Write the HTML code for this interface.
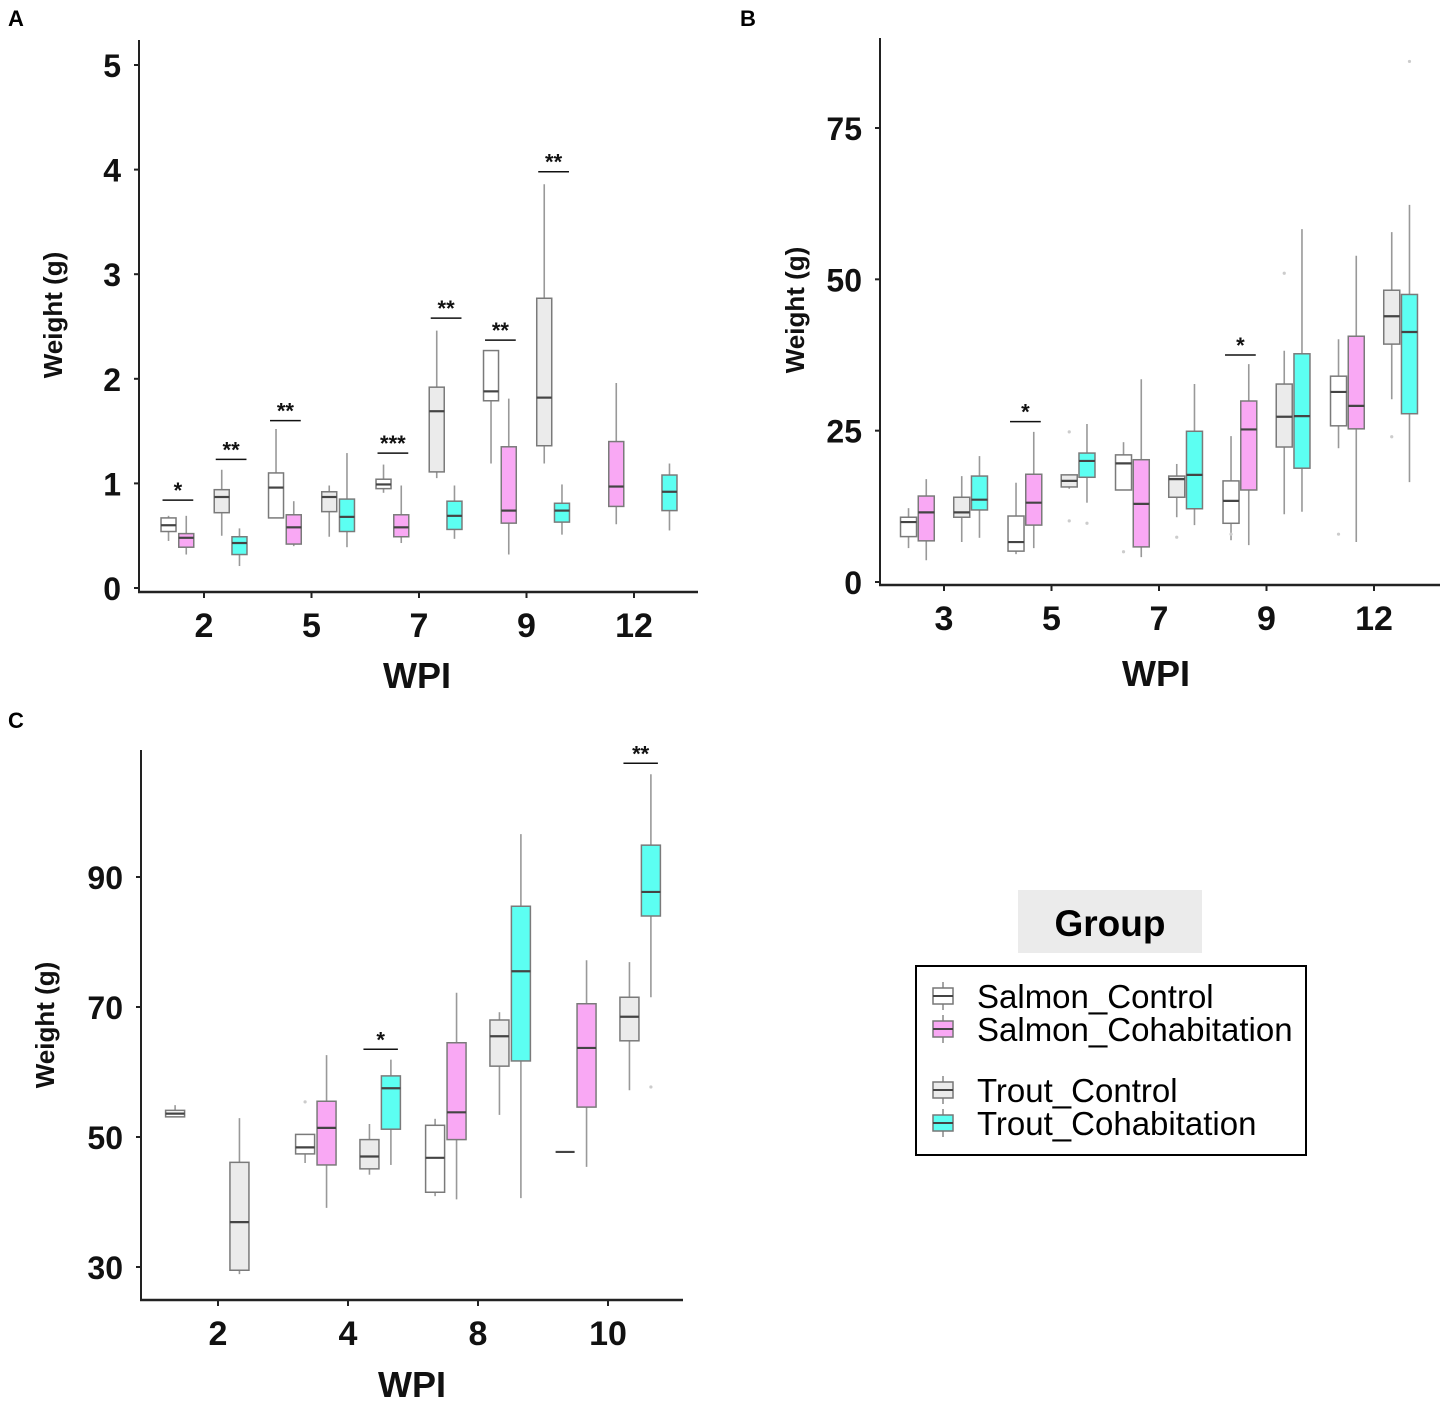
<!DOCTYPE html>
<html><head><meta charset="utf-8"><style>
html,body{margin:0;padding:0;background:#fff;}
svg{display:block;font-family:"Liberation Sans",sans-serif;}
</style></head><body>
<svg id="fig" width="1443" height="1407" viewBox="0 0 1443 1407" xmlns="http://www.w3.org/2000/svg">
<text x="8" y="26" font-size="22" font-weight="bold">A</text>
<text x="740" y="26" font-size="22" font-weight="bold">B</text>
<text x="8" y="728" font-size="22" font-weight="bold">C</text>
<g>
<rect x="1018" y="890" width="184" height="63" fill="#ebebeb"/>
<text x="1110" y="936" font-size="37" font-weight="bold" text-anchor="middle">Group</text>
<rect x="916" y="966" width="390" height="189" fill="#fff" stroke="#000" stroke-width="2"/>
<g><line x1="943" y1="982" x2="943" y2="1010" stroke="#888" stroke-width="1.5"/><rect x="933" y="988" width="20" height="16" fill="#fff" stroke="#777" stroke-width="1.5"/><line x1="933" y1="996" x2="953" y2="996" stroke="#444" stroke-width="2"/><text x="977" y="1008" font-size="33">Salmon_Control</text></g>
<g><line x1="943" y1="1015" x2="943" y2="1043" stroke="#888" stroke-width="1.5"/><rect x="933" y="1021" width="20" height="16" fill="#f9a8f4" stroke="#777" stroke-width="1.5"/><line x1="933" y1="1029" x2="953" y2="1029" stroke="#444" stroke-width="2"/><text x="977" y="1041" font-size="33">Salmon_Cohabitation</text></g>
<g><line x1="943" y1="1076" x2="943" y2="1104" stroke="#888" stroke-width="1.5"/><rect x="933" y="1082" width="20" height="16" fill="#ebebeb" stroke="#777" stroke-width="1.5"/><line x1="933" y1="1090" x2="953" y2="1090" stroke="#444" stroke-width="2"/><text x="977" y="1102" font-size="33">Trout_Control</text></g>
<g><line x1="943" y1="1109" x2="943" y2="1137" stroke="#888" stroke-width="1.5"/><rect x="933" y="1115" width="20" height="16" fill="#5cfff2" stroke="#777" stroke-width="1.5"/><line x1="933" y1="1123" x2="953" y2="1123" stroke="#444" stroke-width="2"/><text x="977" y="1135" font-size="33">Trout_Cohabitation</text></g>
</g>
</svg>
<script>
// ---------- Panel A data ----------
const aCategories = ['2','5','7','9','12'];
const aYTicks = [0,1,2,3,4,5];
const aGroup = [0,0,0,0,1,1,1,1,2,2,2,2,3,3,3,3,4,4];
const aSlot  = [0,1,2,3,0,1,2,3,0,1,2,3,0,1,2,3,1,3];
const aMin = [0.45,0.32,0.50,0.21,0.67,0.40,0.49,0.39,0.91,0.43,1.05,0.47,1.19,0.32,1.19,0.51,0.61,0.55];
const aQ1  = [0.54,0.39,0.72,0.32,0.67,0.42,0.73,0.54,0.95,0.49,1.11,0.56,1.79,0.62,1.36,0.63,0.78,0.74];
const aMed = [0.60,0.48,0.87,0.43,0.96,0.58,0.87,0.68,0.99,0.58,1.69,0.69,1.88,0.74,1.82,0.74,0.97,0.92];
const aQ3  = [0.67,0.52,0.94,0.49,1.10,0.70,0.92,0.85,1.04,0.70,1.92,0.83,2.27,1.35,2.77,0.81,1.40,1.08];
const aMax = [0.69,0.69,1.13,0.57,1.52,0.83,0.98,1.29,1.18,0.98,2.46,0.98,2.27,1.81,3.86,0.99,1.96,1.19];
const aSigGroup = [0,1,2,4,5,6,7];
const aSigLabel = ['*','**','**','***','**','**','**'];
const aSigY = [0.84,1.23,1.60,1.29,2.58,2.37,3.98];

// ---------- Panel B data ----------
const bCategories = ['3','5','7','9','12'];
const bYTicks = [0,25,50,75];
const bGroup = [0,0,0,0,1,1,1,1,2,2,2,2,3,3,3,3,4,4,4,4];
const bSlot  = [0,1,2,3,0,1,2,3,0,1,2,3,0,1,2,3,0,1,2,3];
const bMin = [5.6,3.6,6.6,7.3,4.6,5.6,15.4,13.1,15.2,4.1,10.7,9.4,6.9,6.1,11.2,11.6,22.1,6.6,30.2,16.5];
const bQ1  = [7.5,6.8,10.7,11.9,5.1,9.4,15.7,17.3,15.2,5.8,14.0,12.1,9.7,15.2,22.3,18.8,25.8,25.3,39.3,27.8];
const bMed = [9.9,11.5,11.5,13.6,6.6,13.1,16.7,20.0,19.6,12.9,17.0,17.7,13.4,25.2,27.3,27.4,31.4,29.1,43.9,41.3];
const bQ3  = [10.7,14.2,14.0,17.5,10.9,17.8,17.7,21.3,21.0,20.2,17.5,24.9,16.7,29.9,32.7,37.7,34.0,40.6,48.2,47.5];
const bMax = [12.2,17.0,17.5,20.8,16.4,24.8,17.7,26.1,23.1,33.5,19.5,32.7,24.1,36.0,38.2,58.3,40.1,53.9,57.8,62.3];
const bOutGroup = [1,1,1,2,2,3,3,4,4,4];
const bOutSlot  = [2,2,3,0,2,2,0,0,2,3];
const bOutVal   = [24.8,10.1,9.7,5.0,7.4,51.0,7.9,7.9,24.0,86];
const bSigGroup = [2,6];
const bSigLabel = ['*','*'];
const bSigY = [26.5,37.5];

// ---------- Panel C data ----------
const cCategories = ['2','4','8','10'];
const cYTicks = [30,50,70,90];
const cGroup = [0,0,1,1,1,1,2,2,2,2,3,3,3,3];
const cSlot  = [0,2,0,1,2,3,0,1,2,3,0,1,2,3];
const cMin = [53.1,28.9,46.0,39.1,44.2,45.7,40.9,40.4,53.4,40.6,47.7,45.4,57.2,71.5];
const cQ1  = [53.1,29.5,47.4,45.7,45.1,51.2,41.5,49.6,60.9,61.7,47.7,54.6,64.8,84.0];
const cMed = [53.6,36.9,48.4,51.4,47.0,57.5,46.8,53.8,65.5,75.5,47.7,63.7,68.5,87.7];
const cQ3  = [54.1,46.1,50.4,55.5,49.6,59.4,51.8,64.5,68.0,85.5,47.7,70.5,71.5,94.9];
const cMax = [54.9,52.9,50.4,62.6,52.0,61.9,52.8,72.2,69.2,96.6,47.7,77.2,76.9,105.8];
const cOutGroup = [1,3];
const cOutSlot  = [0,3];
const cOutVal   = [55.4,57.7];
const cSigGroup = [3,7];
const cSigLabel = ['*','**'];
const cSigY = [63.5,107.5];

const fills = ['#ffffff','#f9a8f4','#ebebeb','#5cfff2'];
const NS = 'http://www.w3.org/2000/svg';
const svg = document.getElementById('fig');
function mk(tag, attrs, parent){
  const e = document.createElementNS(NS, tag);
  for (const k in attrs) e.setAttribute(k, attrs[k]);
  parent.appendChild(e);
  return e;
}

function panel(p){
  const g = mk('g', {}, svg);
  
  
  const y = v => p.y0 + (v - p.v0) * (p.y1 - p.y0) / (p.v1 - p.v0);
  const x = i => p.xc0 + i * p.band;
  const off = [-0.33,-0.165,0.165,0.33];
  const sx = (gi, s) => x(gi) + off[s] * p.band;
  const ya = mk('line', {x1:p.axL, y1:p.axT, x2:p.axL, y2:p.axB, stroke:'#222', 'stroke-width':2}, g);
  
  
  const xa = mk('line', {x1:p.axL-1, y1:p.axB, x2:p.axR, y2:p.axB, stroke:'#222', 'stroke-width':2.5}, g);
  
  
  p.yTicks.forEach(t => {
    mk('line', {x1:p.axL-5, y1:y(t), x2:p.axL, y2:y(t), stroke:'#222', 'stroke-width':2}, g);
    const tl = mk('text', {x:p.axL-18, y:y(t)+12, 'font-size':32, 'font-weight':'bold', 'text-anchor':'end', fill:'#111'}, g);
    tl.textContent = t;
    
    
  });
  p.cats.forEach((c, i) => {
    mk('line', {x1:x(i), y1:p.axB, x2:x(i), y2:p.axB+6, stroke:'#222', 'stroke-width':2}, g);
    const tl = mk('text', {x:x(i), y:p.axB+45, 'font-size':34, 'font-weight':'bold', 'text-anchor':'middle', fill:'#111'}, g);
    tl.textContent = c;
    
    
  });
  const xt = mk('text', {x:p.xtX, y:p.xtY, 'font-size':36, 'font-weight':'bold', 'text-anchor':'middle', fill:'#111'}, g);
  xt.textContent = 'WPI';
  
  
  const yt = mk('text', {x:0, y:0, 'font-size':26, 'font-weight':'bold', 'text-anchor':'middle', fill:'#111', transform:`translate(${p.ytX},${p.ytY}) rotate(-90)`}, g);
  yt.textContent = 'Weight (g)';
  
  
  const w = p.bw;
  p.grp.forEach((gi, k) => {
    const s = p.slot[k], cx = sx(gi, s);
    const bg = mk('g', {}, g);
    
    
    mk('line', {x1:cx, y1:y(p.max[k]), x2:cx, y2:y(p.min[k]), stroke:'#999', 'stroke-width':1.6}, bg);
    const h = Math.max(y(p.q1[k]) - y(p.q3[k]), 0);
    if (h > 0) mk('rect', {x:cx-w/2, y:y(p.q3[k]), width:w, height:h, fill:fills[s], stroke:'#7a7a7a', 'stroke-width':1.5}, bg);
    mk('line', {x1:cx-w/2, y1:y(p.med[k]), x2:cx+w/2, y2:y(p.med[k]), stroke:'#444', 'stroke-width':2.2}, bg);
  });
  (p.og || []).forEach((gi, k) => {
    const o = mk('circle', {cx:sx(gi, p.os[k]), cy:y(p.ov[k]), r:1.6, fill:'#ccc'}, g);
    
    
  });
  p.sg.forEach((pi, k) => {
    const gi = Math.floor(pi / 2), side = pi % 2;
    const a = sx(gi, side*2), b = sx(gi, side*2+1);
    const sg = mk('g', {}, g);
    
    
    mk('line', {x1:a-6, y1:y(p.sy[k]), x2:b+7, y2:y(p.sy[k]), stroke:'#111', 'stroke-width':1.5}, sg);
    const st = mk('text', {x:(a+b)/2+0.5, y:y(p.sy[k])-2, 'font-size':22, 'font-weight':'bold', 'text-anchor':'middle', fill:'#111'}, sg);
    st.textContent = p.sl[k];
  });
}

panel({id:'a', cats:aCategories, yTicks:aYTicks, v0:0, v1:5, y0:588, y1:65, xc0:204, band:107.5, bw:15,
  axL:139, axT:40, axB:592, axR:698, xtX:417, xtY:688, ytX:62, ytY:315,
  grp:aGroup, slot:aSlot, min:aMin, q1:aQ1, med:aMed, q3:aQ3, max:aMax, sg:aSigGroup, sl:aSigLabel, sy:aSigY});
panel({id:'b', cats:bCategories, yTicks:bYTicks, v0:0, v1:75, y0:582, y1:128, xc0:944, band:107.5, bw:16,
  axL:880, axT:38, axB:585, axR:1440, xtX:1156, xtY:686, ytX:804, ytY:310,
  grp:bGroup, slot:bSlot, min:bMin, q1:bQ1, med:bMed, q3:bQ3, max:bMax, og:bOutGroup, os:bOutSlot, ov:bOutVal, sg:bSigGroup, sl:bSigLabel, sy:bSigY});
panel({id:'c', cats:cCategories, yTicks:cYTicks, v0:50, v1:90, y0:1137, y1:877, xc0:218, band:130, bw:19,
  axL:141, axT:750, axB:1300, axR:683, xtX:412, xtY:1397, ytX:54, ytY:1025,
  grp:cGroup, slot:cSlot, min:cMin, q1:cQ1, med:cMed, q3:cQ3, max:cMax, og:cOutGroup, os:cOutSlot, ov:cOutVal, sg:cSigGroup, sl:cSigLabel, sy:cSigY});
</script>
</body></html>
